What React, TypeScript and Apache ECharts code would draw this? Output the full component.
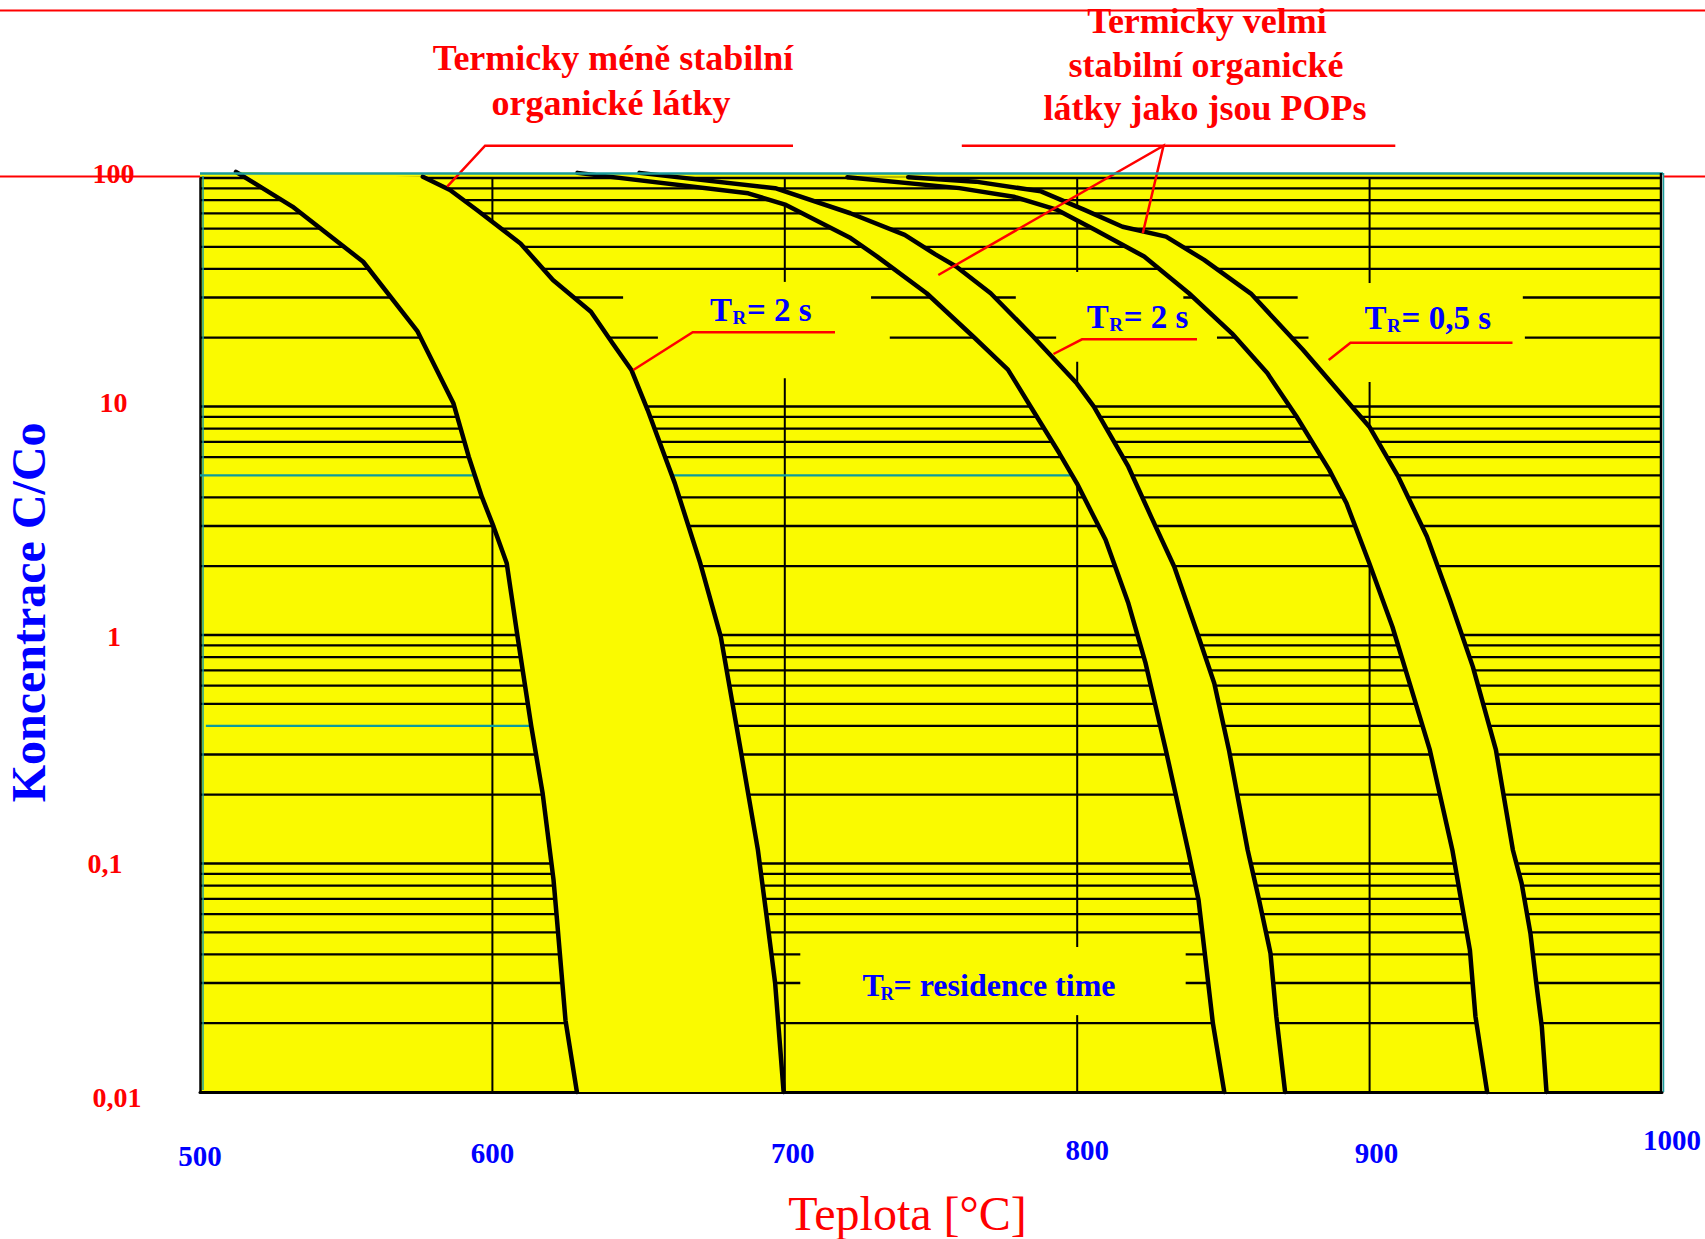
import React, { useEffect, useRef } from 'react';
import * as echarts from 'echarts';

// ---------------- axis ticks ----------------
const xTicks = [500, 600, 700, 800, 900, 1000];
const yTickLabels = ['0,01', '0,1', '1', '10', '100'];

// ---------------- logarithmic grid ----------------
const gridDecades = [0.01, 0.1, 1, 10];
const gridMultiples = [1, 2, 3, 4, 5, 6, 7, 8, 9];
const vGridTemps = [600, 700, 800, 900];

// interruptions of horizontal grid lines (°C ranges)
const hGridGaps: Record<string, [number, number][]> = {
  '30': [[644.7, 729.5], [779.0, 836.3], [875.4, 952.4]],
  '20': [[656.6, 735.9], [792.8, 847.8], [879.1, 953.1]],
  '5': [[500, 800]],
  '0.4': [[500, 620]],
  '0.04': [[705.3, 837.1]],
  '0.03': [[705.3, 837.1]],
};
// interruptions of vertical grid lines (C/Co ranges)
const vGridGaps: Record<string, [number, number][]> = {
  '700': [[13.3, 35.1]],
  '800': [[0.0217, 0.0431], [15.7, 38.8]],
  '900': [[12.8, 34.7]],
};
// cyan grid segments: [C/Co, from °C, to °C]
const cyanGridSegments: [number, number, number][] = [
  [5, 500, 800],
  [0.4, 502, 620],
];

// ---------------- curves [°C, C/Co] ----------------
// thermally less stable organics, TR = 2 s
const lessStableLeft: [number, number][] = [
  [512.3, 106.4], [531.6, 75.0], [555.8, 43.0], [574.4, 21.3], [586.7, 10.3], [591.9, 6.03],
  [596.4, 4.02], [600.4, 2.98], [604.9, 2.06], [608.6, 0.983], [613.3, 0.398], [617.2, 0.202],
  [620.9, 0.0849], [622.0, 0.0585], [625.0, 0.0206], [628.9, 0.01],
];
const lessStableRight: [number, number][] = [
  [576.2, 101.3], [585.5, 88.6], [594.7, 72.4], [609.6, 51.7], [620.7, 35.8], [633.7, 26.0],
  [641.1, 18.9], [647.6, 14.4], [653.1, 9.65], [662.4, 4.61], [671.1, 2.06], [678.1, 0.983],
  [684.9, 0.314], [690.8, 0.1146], [693.8, 0.0585], [696.7, 0.0299], [699.6, 0.01],
];
// very stable organics (POPs), TR = 2 s
const popsTwoSecLeft: [number, number][] = [
  [629.1, 105.3], [687.5, 85.7], [700.4, 76.2], [722.5, 54.6], [731.6, 45.3], [748.5, 31.3],
  [764.5, 20.2], [776.3, 14.5], [784.1, 9.98], [793.9, 6.24], [799.9, 4.61], [809.7, 2.61],
  [817.5, 1.376], [823.4, 0.751], [830.3, 0.314], [837.9, 0.1146], [841.5, 0.0692],
  [843.5, 0.0418], [846.4, 0.02], [850.3, 0.01],
];
const popsTwoSecRight: [number, number][] = [
  [650.3, 105.3], [696.7, 90.2], [722.4, 70.1], [741.0, 56.4], [751.5, 46.3], [758.6, 41.0],
  [770.4, 31.3], [785.0, 20.2], [799.9, 12.6], [805.7, 9.98], [817.5, 5.45], [825.3, 3.29],
  [833.2, 1.99], [841.1, 1.017], [846.9, 0.614], [851.9, 0.314], [858.3, 0.1146],
  [862.2, 0.0692], [866.1, 0.0405], [868.1, 0.0214], [871.1, 0.01],
];
// very stable organics (POPs), TR = 0,5 s
const popsHalfSecLeft: [number, number][] = [
  [721.4, 100.8], [759.7, 90.3], [778.3, 82.8], [793.2, 72.5], [806.2, 59.2], [822.9, 45.3],
  [838.2, 31.3], [852.9, 20.9], [865.0, 14.0], [875.0, 9.04], [886.2, 5.28], [892.1, 3.77],
  [899.9, 2.06], [907.8, 1.087], [913.7, 0.614], [920.6, 0.314], [928.3, 0.1146],
  [931.3, 0.0692], [934.3, 0.0418], [936.2, 0.0214], [940.2, 0.01],
];
const popsHalfSecRight: [number, number][] = [
  [742.2, 100.8], [765.3, 96.4], [787.6, 87.4], [802.5, 72.5], [815.5, 61.2], [830.4, 55.4],
  [843.4, 43.8], [859.4, 31.2], [877.2, 17.7], [894.0, 9.98], [899.9, 8.16], [909.8, 4.93],
  [919.6, 2.70], [927.5, 1.42], [935.3, 0.727], [943.2, 0.314], [949.0, 0.1146],
  [952.0, 0.0819], [955.0, 0.0495], [957.0, 0.0299], [958.9, 0.0193], [960.5, 0.01],
];

const bandPairs: [[number, number][], [number, number][]][] = [
  [lessStableLeft, lessStableRight],
  [popsTwoSecLeft, popsTwoSecRight],
  [popsHalfSecLeft, popsHalfSecRight],
];
const allCurves = [lessStableLeft, lessStableRight, popsTwoSecLeft, popsTwoSecRight, popsHalfSecLeft, popsHalfSecRight];

// ---------------- styles ----------------
const FONT = '"Liberation Serif", "Times New Roman", serif';
const YELLOW = '#FAFA00';
const TEAL = '#1A9C9C';
const CYAN = '#0B9C9C';
const RED = '#FF0000';
const BLUE = '#0000FF';
const BASELINE_K = 0.28;

// label nudges [dx, dy] in px
const xLabelShift: Record<string, [number, number]> = {
  '500': [0, 16.6], '600': [0, 13.3], '700': [8, 13.3], '800': [10, 10], '900': [7, 13.3], '1000': [10, 0],
};
const yLabelShift: [number, number][] = [[3.5, 5.5], [-8.5, -0.5], [0.5, 1], [0, -4.5], [0, -4.3]];

const keyOf = (v: number) => String(parseFloat(v.toPrecision(6)));

function subtractGaps(a: number, b: number, gaps: [number, number][] = []): [number, number][] {
  const sorted = [...gaps].sort((p, q) => p[0] - q[0]);
  const out: [number, number][] = [];
  let cur = a;
  for (const [g0, g1] of sorted) {
    if (g0 > cur) out.push([cur, Math.min(g0, b)]);
    cur = Math.max(cur, g1);
  }
  if (cur < b) out.push([cur, b]);
  return out;
}

const hValues = [100, ...gridDecades.flatMap((d) => gridMultiples.map((m) => parseFloat((d * m).toPrecision(6))))].filter(
  (v) => v > 0.01
);
const hSegments = hValues.flatMap((v) =>
  subtractGaps(500, 1000, hGridGaps[keyOf(v)]).map(([x1, x2]) => [x1, v, x2, v])
);
const vSegments = vGridTemps.flatMap((t) =>
  subtractGaps(0.01, 100, vGridGaps[String(t)]).map(([y1, y2]) => [t, y1, t, y2])
);
const cyanSegments = cyanGridSegments.map(([v, x1, x2]) => [x1, v, x2, v]);

function segmentSeries(data: number[][], color: string, width: number, z: number) {
  return {
    type: 'custom',
    coordinateSystem: 'cartesian2d',
    silent: true,
    z,
    data,
    encode: { x: [0, 2], y: [1, 3] },
    renderItem: (_p: any, api: any) => {
      const p1 = api.coord([api.value(0), api.value(1)]);
      const p2 = api.coord([api.value(2), api.value(3)]);
      return {
        type: 'line',
        shape: { x1: p1[0], y1: p1[1], x2: p2[0], y2: p2[1] },
        style: { stroke: color, lineWidth: width },
      };
    },
  };
}

// ---------------- graphic helpers ----------------
function text(t: string, x: number, baseline: number, size: number, color: string, weight = 'bold', align = 'center') {
  return {
    type: 'text',
    x,
    y: baseline - BASELINE_K * size,
    z: 100,
    silent: true,
    style: {
      text: t,
      fill: color,
      font: `${weight} ${size}px ${FONT}`,
      textAlign: align,
      align,
      textVerticalAlign: 'middle',
      verticalAlign: 'middle',
    },
  };
}
function poly(points: number[][], color = RED, width = 2.5) {
  return { type: 'polyline', z: 90, silent: true, shape: { points }, style: { stroke: color, lineWidth: width, fill: null } };
}
function trLabel(x: number, baseline: number, rest: string, size: number, subSize: number, rOff: number, restOff: number) {
  return [
    text('T', x, baseline, size, BLUE, 'bold', 'left'),
    text('R', x + rOff, baseline + 4, subSize, BLUE, 'bold', 'left'),
    text(rest, x + restOff, baseline, size, BLUE, 'bold', 'left'),
  ];
}

export default function App() {
  const ref = useRef<HTMLDivElement>(null);
  useEffect(() => {
    if (!ref.current) return;
    const chart = echarts.init(ref.current, null, { renderer: 'svg', width: 1705, height: 1239 });

    const xRich: Record<string, any> = {};
    xTicks.forEach((v) => {
      const [dx, dy] = xLabelShift[String(v)];
      xRich['x' + v] = {
        fontSize: 29, fontWeight: 'bold', fontFamily: FONT, color: BLUE,
        padding: [dy, 0, 0, 2 * dx],
      };
    });
    const yRich: Record<string, any> = {};
    yTickLabels.forEach((_, i) => {
      const [dx, dy] = yLabelShift[i];
      yRich['y' + i] = {
        fontSize: 28, fontWeight: 'bold', fontFamily: FONT, color: RED,
        padding: [Math.max(0, 2 * dy), Math.max(0, -2 * dx), Math.max(0, -2 * dy), Math.max(0, 2 * dx)],
      };
    });

    const graphic: any[] = [
      // top yellow strip above the 100 line, borders
      { type: 'rect', z: 1, silent: true, shape: { x: 200, y: 173, width: 1462, height: 4 }, style: { fill: YELLOW } },
      { type: 'line', z: 95, silent: true, shape: { x1: 200, y1: 173.5, x2: 1663, y2: 173.5 }, style: { stroke: TEAL, lineWidth: 2.5 } },
      { type: 'line', z: 95, silent: true, shape: { x1: 1661, y1: 173, x2: 1661, y2: 1092 }, style: { stroke: '#000', lineWidth: 2.5 } },
      { type: 'line', z: 95, silent: true, shape: { x1: 1663.5, y1: 173, x2: 1663.5, y2: 1092 }, style: { stroke: TEAL, lineWidth: 1.5 } },
      { type: 'line', z: 95, silent: true, shape: { x1: 203, y1: 176, x2: 203, y2: 1090 }, style: { stroke: TEAL, lineWidth: 1.5 } },
      // red frame lines
      { type: 'line', z: 90, silent: true, shape: { x1: 0, y1: 10.5, x2: 1705, y2: 10.5 }, style: { stroke: RED, lineWidth: 2 } },
      { type: 'line', z: 90, silent: true, shape: { x1: 0, y1: 176.5, x2: 200, y2: 176.5 }, style: { stroke: RED, lineWidth: 2 } },
      { type: 'line', z: 90, silent: true, shape: { x1: 1664, y1: 176.5, x2: 1705, y2: 176.5 }, style: { stroke: RED, lineWidth: 2 } },
      // pointers
      poly([[447.2, 186.7], [485.1, 145.7], [793, 145.7]]),
      poly([[961.8, 145.7], [1395.3, 145.7]]),
      poly([[938.3, 275], [1163.5, 145.7], [1142.8, 233.3]]),
      poly([[633.3, 370], [692.7, 332.3], [835, 332.3]]),
      poly([[1053.5, 354], [1082, 339.3], [1197, 339.3]]),
      poly([[1328.7, 360], [1350.5, 342.7], [1512.5, 342.7]]),
      // headings
      text('Termicky méně stabilní', 613, 68.3, 36, RED),
      text('organické látky', 611, 113.3, 36, RED),
      text('Termicky velmi', 1207, 31.5, 36, RED),
      text('stabilní organické', 1206, 75, 36, RED),
      text('látky jako jsou POPs', 1205, 118.3, 36, RED),
      // residence time labels
      ...trLabel(710, 319.3, '= 2 s', 33, 19, 22.5, 37),
      ...trLabel(1086.8, 326, '= 2 s', 33, 19, 22.5, 37),
      ...trLabel(1364.6, 327, '= 0,5 s', 33, 19, 22.5, 37),
      ...trLabel(862.5, 994.3, '= residence time', 32, 18.6, 18, 31),
      // axis titles
      text('Teplota [°C]', 907.5, 1226.7, 48, RED, 'normal'),
      {
        type: 'text', x: 28.8, y: 612.4, rotation: Math.PI / 2, z: 100, silent: true,
        style: {
          text: 'Koncentrace C/Co', fill: BLUE, font: `bold 48px ${FONT}`,
          textAlign: 'center', align: 'center', textVerticalAlign: 'middle', verticalAlign: 'middle',
        },
      },
    ];

    const option: any = {
      animation: false,
      backgroundColor: '#FFFFFF',
      grid: {
        left: 200, top: 178, width: 1462, height: 914,
        show: true, backgroundColor: YELLOW, borderWidth: 0,
      },
      xAxis: {
        type: 'value', min: 500, max: 1000, interval: 100,
        axisLine: { show: true, lineStyle: { color: '#000', width: 3 } },
        axisTick: { show: false },
        splitLine: { show: false },
        axisLabel: {
          margin: 33,
          fontSize: 29, fontWeight: 'bold', fontFamily: FONT, color: BLUE,
          formatter: (v: number) => `{x${v}|${v}}`,
          rich: xRich,
        },
      },
      yAxis: {
        type: 'log', logBase: 10, min: 0.01, max: 100,
        axisLine: { show: true, lineStyle: { color: '#000', width: 2.5 } },
        axisTick: { show: false },
        splitLine: { show: false },
        minorTick: { show: false },
        minorSplitLine: { show: false },
        axisLabel: {
          margin: 86.5,
          align: 'center', verticalAlign: 'middle',
          fontSize: 28, fontWeight: 'bold', fontFamily: FONT, color: RED,
          formatter: (v: number) => {
            const i = Math.round(Math.log10(v)) + 2;
            return `{y${i}|${yTickLabels[i]}}`;
          },
          rich: yRich,
        },
      },
      series: [
        segmentSeries(hSegments, '#000', 2.3, 2),
        segmentSeries(vSegments, '#000', 2, 2),
        segmentSeries(cyanSegments, CYAN, 2.3, 2),
        {
          type: 'custom',
          coordinateSystem: 'cartesian2d',
          silent: true,
          z: 3,
          data: [[750, 1]],
          renderItem: (_p: any, api: any) => ({
            type: 'group',
            children: bandPairs.map(([l, r]) => ({
              type: 'polygon',
              shape: { points: [...l, ...[...r].reverse()].map((p) => api.coord(p)) },
              style: { fill: YELLOW },
            })),
          }),
        },
        ...allCurves.map((c) => ({
          type: 'line',
          data: c,
          symbol: 'none',
          showSymbol: false,
          silent: true,
          clip: false,
          z: 4,
          lineStyle: { color: '#000', width: 4.5, join: 'round', cap: 'round' },
        })),
      ],
      graphic,
    };
    chart.setOption(option);
    return () => chart.dispose();
  }, []);
  return <div ref={ref} style={{ position: 'absolute', left: 0, top: 0, width: 1705, height: 1239 }} />;
}
